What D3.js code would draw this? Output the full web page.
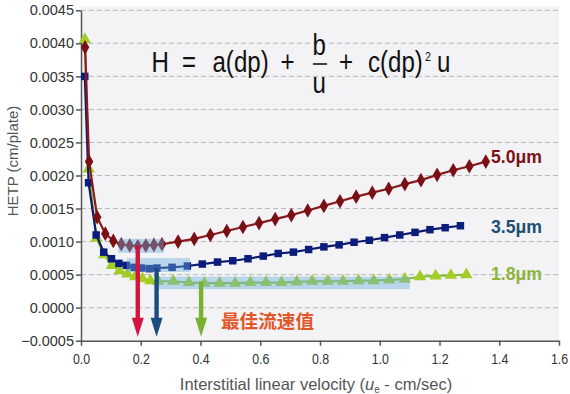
<!DOCTYPE html>
<html><head><meta charset="utf-8">
<script src="https://cdn.jsdelivr.net/npm/d3@7"></script>
<style>body{margin:0;background:#fff}svg{display:block}</style>
</head><body>
<svg id="c" width="570" height="394"></svg>
<script>
// ---- data ----
const redX = [0.0136,0.0271,0.0542,0.0813,0.108,0.135,0.163,0.19,0.217,0.244,0.271,0.325,0.379,0.433,0.488,0.542,0.596,0.65,0.704,0.759,0.813,0.867,0.921,0.975,1.03,1.084,1.138,1.192,1.246,1.3,1.355];
const redY = [0.00394,0.00221,0.00137,0.00112,0.00101,0.00096,0.00094,0.00093,0.00094,0.00095,0.00096,0.0010,0.00104,0.0011,0.00116,0.00122,0.00128,0.00134,0.0014,0.00147,0.00154,0.00161,0.00168,0.00174,0.0018,0.00187,0.00193,0.00201,0.00208,0.00214,0.00221];
const blueX = [0.0127,0.0254,0.0508,0.0762,0.102,0.127,0.152,0.178,0.203,0.229,0.254,0.305,0.356,0.406,0.457,0.508,0.559,0.61,0.66,0.711,0.762,0.813,0.864,0.914,0.965,1.016,1.067,1.118,1.168,1.219,1.27];
const blueY = [0.0035,0.00189,0.0011,0.00084,0.00074,0.00067,0.00064,0.00061,0.0006,0.00059,0.0006,0.00061,0.00063,0.00066,0.00069,0.00071,0.00074,0.00078,0.00082,0.00084,0.00088,0.00092,0.00095,0.00099,0.00102,0.00106,0.0011,0.00114,0.00118,0.00121,0.00124];
const greenX = [0.0129,0.0258,0.0516,0.0774,0.103,0.129,0.155,0.181,0.206,0.232,0.258,0.309,0.361,0.413,0.464,0.516,0.567,0.619,0.671,0.722,0.774,0.826,0.877,0.929,0.98,1.032,1.084,1.135,1.187,1.238,1.29];
const greenY = [0.00406,0.0021,0.00105,0.0008,0.00064,0.00056,0.00051,0.00047,0.00044,0.00041,0.0004,0.0004,0.00038,0.00037,0.00037,0.00037,0.00038,0.00038,0.00038,0.00039,0.0004,0.0004,0.0004,0.00041,0.00041,0.00042,0.00043,0.00047,0.00048,0.00049,0.0005];
const seriesNames = ["5.0μm","3.5μm","1.8μm"];
const labelAnchorY = [0.0023,0.00123,0.00053];
const optimumX = [0.19,0.253,0.402];
const optimumY = [0.00094,0.0006,0.0004];
const arrowTipY = -0.00044;
// highlight boxes: [x0,x1,y0,y1]
const boxX0 = [0.125,0.153,0.253];
const boxX1 = [0.278,0.365,1.10];
const boxY0 = [0.00083,0.00054,0.00028];
const boxY1 = [0.00104,0.00075,0.00047];
const xTicks = [0,0.2,0.4,0.6,0.8,1.0,1.2,1.4,1.6];
const yTicks = [-0.0005,0,0.0005,0.001,0.0015,0.002,0.0025,0.003,0.0035,0.004,0.0045];

const svg = d3.select("#c");
const L=81, R=559, T=10.3, B=340.7;
const x = d3.scaleLinear().domain([0,1.6]).range([L,R]);
const y = d3.scaleLinear().domain([-0.0005,0.0045]).range([B,T]);
const sans = "Liberation Sans, Arial, sans-serif";

svg.append("rect").attr("x",L).attr("y",T-4).attr("width",R-L).attr("height",B-T+4).attr("fill","#f3f2f4");

// grid
svg.append("g").selectAll("line").data(yTicks.filter(d=>d>-0.0005)).join("line")
  .attr("x1",L).attr("x2",R).attr("y1",d=>y(d)).attr("y2",d=>y(d))
  .attr("stroke","#b8b8b8").attr("stroke-width",1).attr("stroke-dasharray","5,3");

// axes
const yAxis = svg.append("g").attr("transform",`translate(${L},0)`)
  .call(d3.axisLeft(y).tickValues(yTicks).tickFormat(d3.format(".4f")).tickSize(5).tickSizeOuter(0));
const xAxis = svg.append("g").attr("transform",`translate(0,${B})`)
  .call(d3.axisBottom(x).tickValues(xTicks).tickFormat(d3.format(".1f")).tickSize(5).tickSizeOuter(0));
[yAxis,xAxis].forEach(a=>{a.select(".domain").attr("stroke","#555").attr("stroke-width",1.5);
  a.selectAll(".tick line").attr("stroke","#555").attr("stroke-width",1.5);});
yAxis.selectAll("text").attr("font-family",sans).attr("font-size",14.5).attr("fill","#333").attr("x",-7);
xAxis.selectAll("text").attr("font-family",sans).attr("font-size",15.5).attr("fill","#333").attr("y",12)
  .attr("transform","scale(0.8,1)");

// series
const series = [
  {xs:redX, ys:redY, line:"#8a1a1e", mark:"#7a0f14", sym:d3.symbolDiamond, size:62},
  {xs:blueX, ys:blueY, line:"#0c1a6e", mark:"#0b1d7c", sym:d3.symbolSquare, size:56},
  {xs:greenX, ys:greenY, line:"#88c23c", mark:"#a3cd24", sym:d3.symbolTriangle, size:66},
];
const line = d3.line().x(d=>x(d[0])).y(d=>y(d[1]));
[2,1,0].forEach(i=>{
  const s = series[i];
  const pts = s.xs.map((v,j)=>[v,s.ys[j]]);
  svg.append("path").datum(pts).attr("d",line).attr("fill","none").attr("stroke",s.line).attr("stroke-width",2.2);
  svg.append("g").selectAll("path").data(pts).join("path")
    .attr("d",d3.symbol().type(s.sym).size(s.size))
    .attr("transform",d=>`translate(${x(d[0])},${y(d[1])})`)
    .attr("fill",s.mark);
});

// highlight boxes
svg.append("g").selectAll("rect").data(boxX0).join("rect")
  .attr("x",(d,i)=>x(d)).attr("width",(d,i)=>x(boxX1[i])-x(d))
  .attr("y",(d,i)=>y(boxY1[i])).attr("height",(d,i)=>y(boxY0[i])-y(boxY1[i]))
  .attr("fill","#6aaee0").attr("opacity",0.42);

// arrows
const arrowCol = ["#d1153c","#1b4d7e","#79b232"];
optimumX.forEach((v,i)=>{
  const g = svg.append("g");
  const xc = x(v), ytip = y(arrowTipY), yhead = ytip-19;
  g.append("rect").attr("x",xc-2.2).attr("width",4.4).attr("y",y(optimumY[i])).attr("height",yhead-y(optimumY[i])+1).attr("fill",arrowCol[i]);
  g.append("path").attr("d",`M${xc-6},${yhead} L${xc+6},${yhead} L${xc},${ytip} Z`).attr("fill",arrowCol[i]);
});

// labels
const labCol = ["#7b1214","#1d4e75","#8db43c"];
seriesNames.forEach((n,i)=>{
  svg.append("text").attr("x",491).attr("y",y(labelAnchorY[i])+7).text(n)
    .attr("font-family",sans).attr("font-weight","bold")
    .attr("font-size",19).attr("fill",labCol[i]).attr("textLength",51).attr("lengthAdjust","spacingAndGlyphs");
});

svg.append("text").attr("x",221).attr("y",327.5).text("最佳流速值")
  .attr("font-family","Noto Sans CJK SC, sans-serif").attr("font-weight","bold").attr("font-size",18.6).attr("fill","#e2572a");

// formula (horizontally condensed)
const k = 0.83;
const fg = svg.append("g").attr("transform",`scale(${k},1)`).attr("font-family",sans).attr("fill","#111").attr("font-size",29);
const pieces = [["H",151.5,72],["=",182,72],["a(dp)",212.5,72],["+",280.5,72],["b",312.5,55],["u",312.5,93],["+",339,72],["c(dp)",368,72],["u",437,72]];
pieces.forEach(p=>fg.append("text").attr("x",p[1]/k).attr("y",p[2]).text(p[0]));
fg.append("text").attr("x",425/k).attr("y",61).attr("font-size",13).text("2");
svg.append("line").attr("x1",313).attr("x2",327).attr("y1",64).attr("y2",64).attr("stroke","#111").attr("stroke-width",1.6);

// axis titles
svg.append("text").attr("transform","translate(18,161) rotate(-90)").attr("text-anchor","middle")
  .attr("font-family",sans).attr("font-size",15).attr("fill","#555").text("HETP (cm/plate)");
const xt = svg.append("text").attr("x",316).attr("y",390).attr("text-anchor","middle")
  .attr("font-family",sans).attr("font-size",16.5).attr("fill","#555");
xt.append("tspan").text("Interstitial linear velocity (");
xt.append("tspan").text("u").attr("font-style","italic");
xt.append("tspan").text("e").attr("font-size",10).attr("dy",3);
xt.append("tspan").text(" - cm/sec)").attr("dy",-3);
</script>
</body></html>
